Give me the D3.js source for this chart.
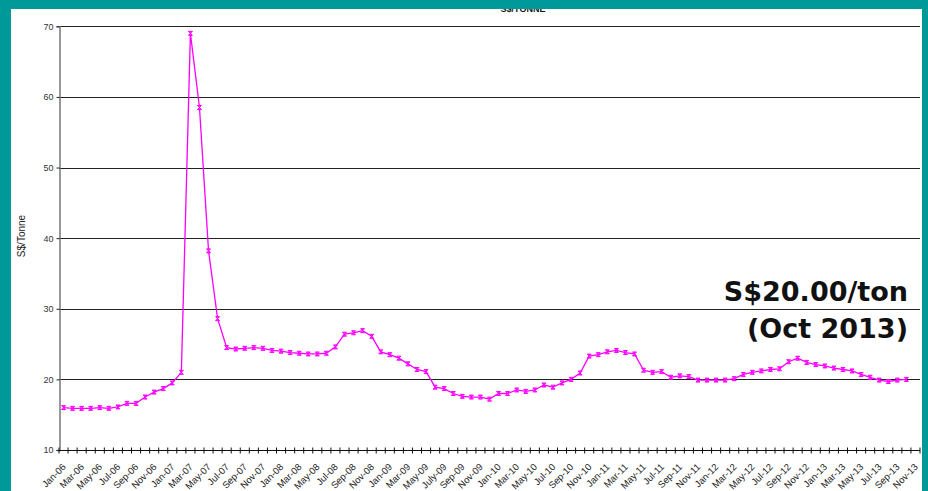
<!DOCTYPE html>
<html>
<head>
<meta charset="utf-8">
<script src="https://cdn.jsdelivr.net/npm/d3@7"></script>
<style>
  html, body { margin: 0; padding: 0; background: #009999; }
  svg { display: block; }
</style>
</head>
<body>
<div id="chartContainer"></div>
<script>
// monthly categories on the x axis (Nov-13 has no value yet)
const months = [
  "Jan-06","Feb-06","Mar-06","Apr-06","May-06","Jun-06","Jul-06","Aug-06","Sep-06","Oct-06","Nov-06","Dec-06",
  "Jan-07","Feb-07","Mar-07","Apr-07","May-07","Jun-07","Jul-07","Aug-07","Sep-07","Oct-07","Nov-07","Dec-07",
  "Jan-08","Feb-08","Mar-08","Apr-08","May-08","Jun-08","Jul-08","Aug-08","Sep-08","Oct-08","Nov-08","Dec-08",
  "Jan-09","Feb-09","Mar-09","Apr-09","May-09","Jun-09","July-09","Aug-09","Sep-09","Oct-09","Nov-09","Dec-09",
  "Jan-10","Feb-10","Mar-10","Apr-10","May-10","Jun-10","Jul-10","Aug-10","Sep-10","Oct-10","Nov-10","Dec-10",
  "Jan-11","Feb-11","Mar-11","Apr-11","May-11","Jun-11","Jul-11","Aug-11","Sep-11","Oct-11","Nov-11","Dec-11",
  "Jan-12","Feb-12","Mar-12","Apr-12","May-12","Jun-12","Jul-12","Aug-12","Sep-12","Oct-12","Nov-12","Dec-12",
  "Jan-13","Feb-13","Mar-13","Apr-13","May-13","Jun-13","Jul-13","Aug-13","Sep-13","Oct-13","Nov-13"
];

// S$ per tonne, Jan-06 .. Oct-13
const prices = [
  16.0, 15.9, 15.9, 15.9, 16.0, 15.9, 16.1, 16.6, 16.6, 17.5, 18.2, 18.7,
  19.5, 21.0, 69.0, 58.5, 38.2, 28.6, 24.5, 24.3, 24.4, 24.5, 24.4, 24.1,
  24.0, 23.8, 23.7, 23.6, 23.6, 23.7, 24.6, 26.4, 26.6, 26.9, 26.1, 23.9,
  23.5, 23.0, 22.2, 21.4, 21.1, 18.9, 18.7, 18.0, 17.6, 17.5, 17.5, 17.2,
  18.0, 18.0, 18.5, 18.3, 18.5, 19.2, 18.9, 19.5, 20.0, 20.9, 23.3, 23.5,
  23.9, 24.1, 23.8, 23.6, 21.3, 21.0, 21.1, 20.3, 20.5, 20.4, 19.9, 19.9,
  19.9, 19.9, 20.1, 20.7, 21.0, 21.2, 21.4, 21.5, 22.5, 23.0, 22.4, 22.1,
  21.9, 21.6, 21.4, 21.2, 20.7, 20.3, 19.9, 19.7, 19.9, 20.0
];

const yTicks = [10, 20, 30, 40, 50, 60, 70];
const chartTitle = "S$/TONNE";
const yLabel = "S$/Tonne";
const noteLines = ["S$20.00/ton", "(Oct 2013)"];

const W = 928, H = 491;
const margin = { top: 26.3, right: 8, bottom: 41, left: 59 };

const svg = d3.select("#chartContainer")
    .append("svg")
    .attr("width", W)
    .attr("height", H);

// white panel inside the teal frame
svg.append("rect")
    .attr("x", 11).attr("y", 0)
    .attr("width", 911).attr("height", H)
    .attr("fill", "white");

const x = d3.scaleBand()
    .domain(months)
    .range([margin.left, W - margin.right])
    .padding(0);

const y = d3.scaleLinear()
    .domain([10, 70])
    .range([H - margin.bottom, margin.top]);

// gridlines
svg.append("g")
   .selectAll("line")
   .data(yTicks.slice(1))
   .enter().append("line")
   .attr("x1", margin.left)
   .attr("x2", W - margin.right)
   .attr("y1", d => Math.round(y(d)) + 0.5)
   .attr("y2", d => Math.round(y(d)) + 0.5)
   .attr("stroke", "#222")
   .attr("stroke-width", 1);

// y axis
const yAxis = svg.append("g")
   .attr("transform", `translate(${margin.left + 0.5},0)`)
   .call(d3.axisLeft(y).tickValues(yTicks).tickSize(3).tickPadding(3));
yAxis.select(".domain").attr("stroke", "#777").attr("stroke-width", 1.5);
yAxis.selectAll(".tick line").attr("stroke", "#222");
yAxis.selectAll(".tick text")
   .attr("font-family", "Liberation Sans, Arial, sans-serif")
   .attr("font-size", 9)
   .attr("fill", "#333");

// x axis: line, a tick on each category boundary, labels every second month
const xAxisY = Math.round(y(10)) + 0.5;
svg.append("line")
   .attr("x1", margin.left).attr("x2", W - margin.right)
   .attr("y1", xAxisY).attr("y2", xAxisY)
   .attr("stroke", "#111").attr("stroke-width", 1.2);

const boundaries = months.map(m => x(m)).concat([x.range()[1]]);
svg.append("g")
   .selectAll("line")
   .data(boundaries)
   .enter().append("line")
   .attr("x1", d => d).attr("x2", d => d)
   .attr("y1", xAxisY - 3).attr("y2", xAxisY + 3)
   .attr("stroke", "#111").attr("stroke-width", 1);

svg.append("g")
   .selectAll("text")
   .data(months.filter((m, i) => i % 2 === 0))
   .enter().append("text")
   .attr("transform", d => `translate(${x(d) + x.bandwidth() / 2 + 3},${xAxisY + 17}) rotate(-45)`)
   .attr("text-anchor", "end")
   .attr("font-family", "Liberation Sans, Arial, sans-serif")
   .attr("font-size", 9.5)
   .attr("fill", "#222")
   .text(d => d);

// y label
svg.append("text")
   .attr("transform", `translate(25,236) rotate(-90)`)
   .attr("text-anchor", "middle")
   .attr("font-family", "Liberation Sans, Arial, sans-serif")
   .attr("font-size", 10)
   .attr("fill", "#222")
   .text(yLabel);

// price line
const points = prices.map((v, i) => ({ month: months[i], value: v }));
const line = d3.line()
    .x(d => x(d.month) + x.bandwidth() / 2)
    .y(d => y(d.value));

svg.append("path")
   .datum(points)
   .attr("fill", "none")
   .attr("stroke", "#ff00ff")
   .attr("stroke-width", 1.3)
   .attr("d", line);

svg.append("g")
   .selectAll("path")
   .data(points)
   .enter().append("path")
   .attr("transform", d => `translate(${x(d.month) + x.bandwidth() / 2},${y(d.value)})`)
   .attr("d", "M-2,-2L2,-2L-2,2L2,2Z")
   .attr("fill", "#ff33ff")
   .attr("stroke", "#ff00ff")
   .attr("stroke-width", 1);

// annotation
svg.append("g")
   .selectAll("text")
   .data(noteLines)
   .enter().append("text")
   .attr("x", 908)
   .attr("y", (d, i) => 301 + i * 37)
   .attr("text-anchor", "end")
   .attr("font-family", "DejaVu Sans, Verdana, sans-serif")
   .attr("font-weight", "bold")
   .attr("font-size", 27)
   .attr("fill", "#111")
   .text(d => d);

// title, partly tucked under the teal frame
svg.append("text")
   .attr("x", 523)
   .attr("y", 12)
   .attr("text-anchor", "middle")
   .attr("font-family", "Liberation Sans, Arial, sans-serif")
   .attr("font-weight", "bold")
   .attr("font-size", 9)
   .attr("fill", "#111")
   .text(chartTitle);

// teal frame on top
svg.append("rect").attr("x", 0).attr("y", 0).attr("width", W).attr("height", 9).attr("fill", "#009999");
svg.append("rect").attr("x", 0).attr("y", 0).attr("width", 11).attr("height", H).attr("fill", "#009999");
svg.append("rect").attr("x", 922).attr("y", 0).attr("width", 6).attr("height", H).attr("fill", "#009999");
</script>
</body>
</html>
